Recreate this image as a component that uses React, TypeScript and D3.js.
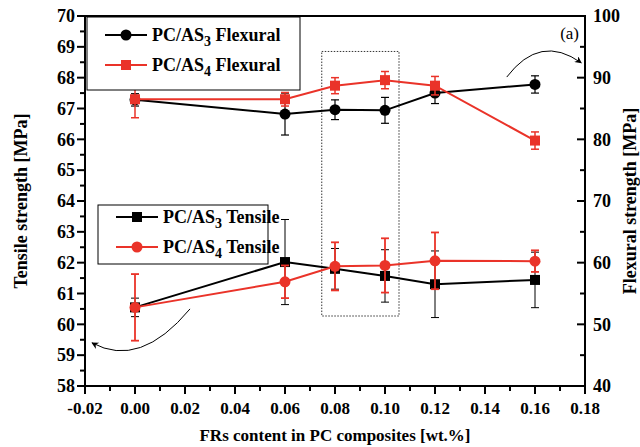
import React, { useRef, useEffect } from 'react';
import * as d3 from 'd3';

// x positions (FR content, wt.%)
const loadings = [0.0, 0.06, 0.08, 0.1, 0.12, 0.16];

// tensile strength [MPa], left axis
const tensileAS3 = [60.55, 62.02, 61.8, 61.57, 61.3, 61.44];
const tensileAS3Err = [0.3, 1.38, 0.66, 0.85, 1.08, 0.9];
const tensileAS4 = [60.55, 61.38, 61.88, 61.91, 62.06, 62.05];
const tensileAS4Err = [1.08, 0.53, 0.78, 0.88, 0.92, 0.35];

// flexural strength [MPa], right axis
const flexAS3 = [86.4, 84.1, 84.8, 84.7, 87.5, 88.9];
const flexAS3Err = [1.0, 3.4, 1.6, 2.1, 1.7, 1.4];
const flexAS4 = [86.5, 86.5, 88.7, 89.6, 88.7, 79.8];
const flexAS4Err = [3.0, 1.1, 1.3, 1.4, 1.5, 1.4];

const xTicks = [-0.02, 0.0, 0.02, 0.04, 0.06, 0.08, 0.1, 0.12, 0.14, 0.16, 0.18];
const leftTicks = [58, 59, 60, 61, 62, 63, 64, 65, 66, 67, 68, 69, 70];
const rightTicks = [40, 50, 60, 70, 80, 90, 100];

// dotted highlight box (x range, tensile range)
const boxX = [0.0747, 0.1056];
const boxY = [60.27, 68.85];

const RED = '#ea3329';
const FONT = '"Liberation Serif", "Times New Roman", serif';

const App = () => {
  const svgRef = useRef<SVGSVGElement>(null);

  useEffect(() => {
    document.body.style.margin = '0';
    const width = 640;
    const height = 447;
    const m = { left: 85, right: 55, top: 16, bottom: 61 };

    const svg = d3.select(svgRef.current).attr('width', width).attr('height', height);
    svg.selectAll('*').remove();
    svg.append('rect').attr('width', width).attr('height', height).attr('fill', '#fff');

    const x = d3.scaleLinear().domain([-0.02, 0.18]).range([m.left, width - m.right]);
    const yL = d3.scaleLinear().domain([58, 70]).range([height - m.bottom, m.top]);
    const yR = d3.scaleLinear().domain([40, 100]).range([height - m.bottom, m.top]);

    const x0 = m.left, x1 = width - m.right, y0 = height - m.bottom, y1 = m.top;

    // dotted box
    svg.append('rect')
      .attr('x', x(boxX[0])).attr('y', yL(boxY[1]))
      .attr('width', x(boxX[1]) - x(boxX[0]))
      .attr('height', yL(boxY[0]) - yL(boxY[1]))
      .attr('fill', 'none').attr('stroke', '#333').attr('stroke-width', 1)
      .attr('stroke-dasharray', '1.5,1.5');

    // frame
    svg.append('rect').attr('x', x0).attr('y', y1).attr('width', x1 - x0).attr('height', y0 - y1)
      .attr('fill', 'none').attr('stroke', '#000').attr('stroke-width', 2);

    // x axis ticks
    const xMinor = d3.range(-0.02, 0.1801, 0.01);
    svg.append('g').selectAll('line').data(xMinor).enter().append('line')
      .attr('x1', d => x(d)).attr('x2', d => x(d))
      .attr('y1', y0).attr('y2', (d, i) => y0 + (i % 2 === 0 ? 8 : 5))
      .attr('stroke', '#000').attr('stroke-width', 2);
    svg.append('g').selectAll('text').data(xTicks).enter().append('text')
      .attr('x', d => x(d)).attr('y', y0 + 28)
      .attr('text-anchor', 'middle')
      .style('font-family', FONT).style('font-weight', 'bold').style('font-size', '17px')
      .text(d => d3.format('.2f')(d).replace('−', '-'));

    // left axis ticks (outward)
    const lMinor = d3.range(58, 70.01, 0.5);
    svg.append('g').selectAll('line').data(lMinor).enter().append('line')
      .attr('x1', x0).attr('x2', (d, i) => x0 - (i % 2 === 0 ? 8 : 5))
      .attr('y1', d => yL(d)).attr('y2', d => yL(d))
      .attr('stroke', '#000').attr('stroke-width', 2);
    svg.append('g').selectAll('text').data(leftTicks).enter().append('text')
      .attr('x', x0 - 10).attr('y', d => yL(d)).attr('dy', '0.35em')
      .attr('text-anchor', 'end')
      .style('font-family', FONT).style('font-weight', 'bold').style('font-size', '18px')
      .text(d => d);

    // right axis ticks (inward)
    const rMinor = d3.range(40, 100.1, 5);
    svg.append('g').selectAll('line').data(rMinor).enter().append('line')
      .attr('x1', x1).attr('x2', (d, i) => x1 - (i % 2 === 0 ? 8 : 5))
      .attr('y1', d => yR(d)).attr('y2', d => yR(d))
      .attr('stroke', '#000').attr('stroke-width', 2);
    svg.append('g').selectAll('text').data(rightTicks).enter().append('text')
      .attr('x', x1 + 8).attr('y', d => yR(d)).attr('dy', '0.35em')
      .attr('text-anchor', 'start')
      .style('font-family', FONT).style('font-weight', 'bold').style('font-size', '18px')
      .text(d => d);

    // axis titles
    svg.append('text').attr('transform', `translate(27, ${(y0 + y1) / 2}) rotate(-90)`)
      .attr('text-anchor', 'middle')
      .style('font-family', FONT).style('font-weight', 'bold').style('font-size', '18px')
      .text('Tensile strength [MPa]');
    svg.append('text').attr('transform', `translate(636, ${(y0 + y1) / 2}) rotate(-90)`)
      .attr('text-anchor', 'middle')
      .style('font-family', FONT).style('font-weight', 'bold').style('font-size', '18px')
      .text('Flexural strength [MPa]');
    svg.append('text').attr('x', (x0 + x1) / 2).attr('y', 441)
      .attr('text-anchor', 'middle')
      .style('font-family', FONT).style('font-weight', 'bold').style('font-size', '17px')
      .text('FRs content in PC composites [wt.%]');

    svg.append('text').attr('x', x1 - 6).attr('y', 39).attr('text-anchor', 'end')
      .style('font-family', FONT).style('font-size', '17px').text('(a)');

    // series
    type S = { vals: number[]; errs: number[]; y: d3.ScaleLinear<number, number>; color: string; marker: 'circle' | 'square'; errW: number };
    const series: S[] = [
      { vals: tensileAS3, errs: tensileAS3Err, y: yL, color: '#000', marker: 'square', errW: 1 },
      { vals: flexAS3, errs: flexAS3Err, y: yR, color: '#000', marker: 'circle', errW: 1.2 },
      { vals: tensileAS4, errs: tensileAS4Err, y: yL, color: RED, marker: 'circle', errW: 1.8 },
      { vals: flexAS4, errs: flexAS4Err, y: yR, color: RED, marker: 'square', errW: 1.5 },
    ];

    series.forEach(s => {
      const g = svg.append('g');
      const line = d3.line<number>().x((d, i) => x(loadings[i])).y(d => s.y(d));
      g.append('path').datum(s.vals).attr('d', line).attr('fill', 'none')
        .attr('stroke', s.color).attr('stroke-width', 2);
      s.vals.forEach((v, i) => {
        const cx = x(loadings[i]);
        const top = s.y(v + s.errs[i]);
        const bot = s.y(v - s.errs[i]);
        g.append('line').attr('x1', cx).attr('x2', cx).attr('y1', top).attr('y2', bot)
          .attr('stroke', s.color).attr('stroke-width', s.errW);
        [top, bot].forEach(yy => g.append('line').attr('x1', cx - 4).attr('x2', cx + 4)
          .attr('y1', yy).attr('y2', yy).attr('stroke', s.color).attr('stroke-width', s.errW));
      });
      s.vals.forEach((v, i) => {
        const cx = x(loadings[i]);
        if (s.marker === 'circle') {
          g.append('circle').attr('cx', cx).attr('cy', s.y(v)).attr('r', 5.5).attr('fill', s.color);
        } else {
          g.append('rect').attr('x', cx - 5).attr('y', s.y(v) - 5).attr('width', 10).attr('height', 10).attr('fill', s.color);
        }
      });
    });

    // annotation arrows
    const defs = svg.append('defs');
    defs.append('marker').attr('id', 'ah').attr('viewBox', '0 0 10 10').attr('refX', 9).attr('refY', 5)
      .attr('markerWidth', 9).attr('markerHeight', 7).attr('orient', 'auto').attr('markerUnits', 'userSpaceOnUse')
      .append('path').attr('d', 'M0,0 L10,5 L0,10 L3,5 Z').attr('fill', '#000');

    const p1 = d3.path();
    p1.moveTo(x(0.1487), yR(90.1));
    p1.quadraticCurveTo(x(0.1620), yR(97.2), x(0.1785), yR(92.4));
    svg.append('path').attr('d', p1.toString()).attr('fill', 'none').attr('stroke', '#000')
      .attr('stroke-width', 1).attr('marker-end', 'url(#ah)');

    const p2 = d3.path();
    p2.moveTo(x(0.022), yL(60.5));
    p2.quadraticCurveTo(x(0.002), yL(58.55), x(-0.0172), yL(59.4));
    svg.append('path').attr('d', p2.toString()).attr('fill', 'none').attr('stroke', '#000')
      .attr('stroke-width', 1).attr('marker-end', 'url(#ah)');

    // legends
    const legend = (lx: number, ly: number, w: number, h: number, items: { color: string; marker: string; num: string; label: string; y: number }[]) => {
      const g = svg.append('g');
      g.append('rect').attr('x', lx).attr('y', ly).attr('width', w).attr('height', h)
        .attr('fill', '#fff').attr('stroke', '#000').attr('stroke-width', 1);
      items.forEach(it => {
        g.append('line').attr('x1', lx + 18).attr('x2', lx + 60).attr('y1', it.y).attr('y2', it.y)
          .attr('stroke', it.color).attr('stroke-width', 2);
        if (it.marker === 'circle') {
          g.append('circle').attr('cx', lx + 39).attr('cy', it.y).attr('r', 5.5).attr('fill', it.color);
        } else {
          g.append('rect').attr('x', lx + 34).attr('y', it.y - 5).attr('width', 10).attr('height', 10).attr('fill', it.color);
        }
        const t = g.append('text').attr('x', lx + 65).attr('y', it.y + 6)
          .style('font-family', FONT).style('font-weight', 'bold').style('font-size', '18px');
        t.append('tspan').text('PC/AS');
        t.append('tspan').attr('dy', 5).style('font-size', '14px').text(it.num);
        t.append('tspan').attr('dy', -5).text(' ' + it.label);
      });
    };

    legend(87, 17, 213, 73, [
      { color: '#000', marker: 'circle', num: '3', label: 'Flexural', y: 35 },
      { color: RED, marker: 'square', num: '4', label: 'Flexural', y: 65 },
    ]);
    legend(98, 205, 170, 59, [
      { color: '#000', marker: 'square', num: '3', label: 'Tensile', y: 217 },
      { color: RED, marker: 'circle', num: '4', label: 'Tensile', y: 247 },
    ]);
  }, []);

  return <svg ref={svgRef}></svg>;
};

export default App;
